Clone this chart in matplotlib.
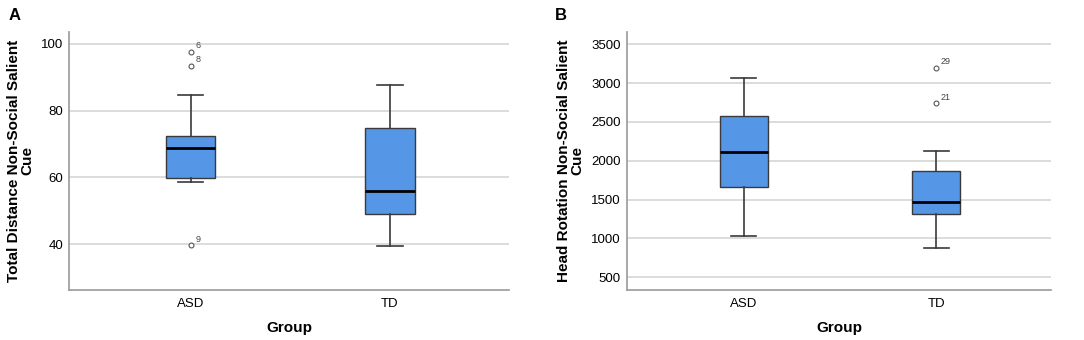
import matplotlib
matplotlib.use('Agg')
import matplotlib.pyplot as plt

plt.rcParams['font.family'] = ['Liberation Sans', 'DejaVu Sans']

groups = ['ASD', 'TD']

# panel A: total distance, non-social salient cue
dist_q1 = [59.8, 48.9]
dist_med = [68.9, 56.0]
dist_q3 = [72.5, 74.7]
dist_lo = [58.7, 39.3]
dist_hi = [84.8, 87.8]
dist_out = [[97.7, 93.4, 39.6], []]
dist_out_ids = [['6', '8', '9'], []]

# panel B: head rotation, non-social salient cue
rot_q1 = [1659, 1315]
rot_med = [2113, 1466]
rot_q3 = [2581, 1873]
rot_lo = [1032, 877]
rot_hi = [3066, 2130]
rot_out = [[], [3195, 2740]]
rot_out_ids = [[], ['29', '21']]

BOX_COLOR = '#5596e6'
EDGE = '#3a3a3a'


def draw_panel(ax, q1, med, q3, lo, hi, out, ids, ylabel, ylim, yticks, dy):
    stats = []
    for i in range(len(groups)):
        stats.append({'q1': q1[i], 'med': med[i], 'q3': q3[i],
                      'whislo': lo[i], 'whishi': hi[i],
                      'fliers': out[i], 'label': groups[i]})
    ax.bxp(stats, positions=[1, 2], widths=0.25, patch_artist=True,
           boxprops=dict(facecolor=BOX_COLOR, edgecolor=EDGE, linewidth=1.0),
           medianprops=dict(color='black', linewidth=2.0),
           whiskerprops=dict(color=EDGE, linewidth=1.2),
           capprops=dict(color=EDGE, linewidth=1.2),
           capwidths=0.13,
           flierprops=dict(marker='o', markersize=3.5, markerfacecolor='white',
                           markeredgecolor='#555555', markeredgewidth=0.8),
           zorder=3)
    for i, (vals, labs) in enumerate(zip(out, ids)):
        for v, t in zip(vals, labs):
            ax.text(i + 1 + 0.025, v + dy, t, fontsize=6.5, color='#444444',
                    ha='left', va='bottom', zorder=4)
    ax.set_xlim(0.39, 2.6)
    ax.set_ylim(*ylim)
    ax.set_yticks(yticks)
    ax.yaxis.grid(True, color='#d6d6d6', linewidth=1.2, zorder=0)
    ax.set_axisbelow(True)
    for s in ['top', 'right']:
        ax.spines[s].set_visible(False)
    for s in ['left', 'bottom']:
        ax.spines[s].set_color('#9a9a9a')
        ax.spines[s].set_linewidth(1.2)
    ax.tick_params(length=0, labelsize=9.5, pad=4)
    ax.tick_params(axis='x', pad=6)
    ax.set_xlabel('Group', fontsize=11, fontweight='bold', labelpad=8)
    ax.set_ylabel(ylabel, fontsize=11, fontweight='bold', labelpad=5,
                  linespacing=0.95)


fig = plt.figure(figsize=(10.84, 3.4), dpi=100)
ax1 = fig.add_axes([0.0637, 0.147, 0.406, 0.760])
ax2 = fig.add_axes([0.578, 0.147, 0.392, 0.760])

draw_panel(ax1, dist_q1, dist_med, dist_q3, dist_lo, dist_hi, dist_out,
           dist_out_ids, 'Total Distance Non-Social Salient\nCue',
           (26.2, 103.7), [40, 60, 80, 100], 0.5)
draw_panel(ax2, rot_q1, rot_med, rot_q3, rot_lo, rot_hi, rot_out,
           rot_out_ids, 'Head Rotation Non-Social Salient\nCue',
           (337, 3662), [500, 1000, 1500, 2000, 2500, 3000, 3500], 20)

fig.text(0.008, 0.955, 'A', fontsize=12, fontweight='bold', va='center')
fig.text(0.512, 0.955, 'B', fontsize=12, fontweight='bold', va='center')

fig.savefig('out.png', dpi=100)
